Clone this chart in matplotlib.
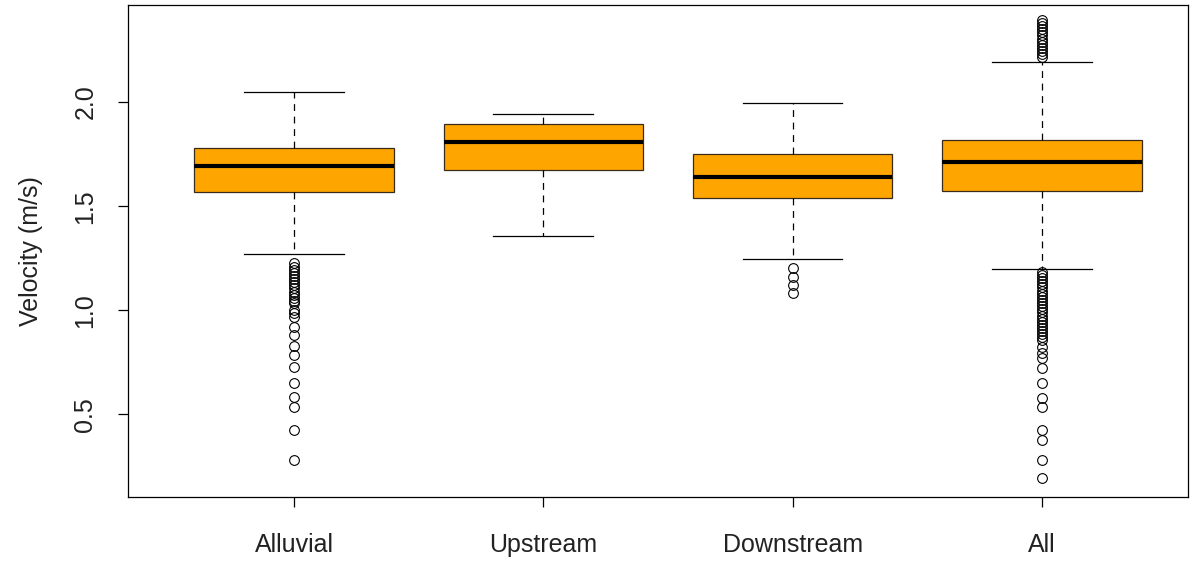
import matplotlib.pyplot as plt

plt.rcParams['font.family'] = ['Liberation Sans', 'DejaVu Sans']

# Groups and their five-number summaries (velocity in m/s)
groups = ["Alluvial", "Upstream", "Downstream", "All"]
whisker_low = [1.270, 1.357, 1.246, 1.200]
q1 = [1.570, 1.672, 1.539, 1.573]
median = [1.694, 1.809, 1.641, 1.710]
q3 = [1.778, 1.894, 1.752, 1.818]
whisker_high = [2.049, 1.942, 1.997, 2.192]

# Points beyond the whiskers
alluvial_out = [1.225, 1.21, 1.195, 1.18, 1.165, 1.15, 1.135, 1.12, 1.105,
                1.09, 1.075, 1.06, 1.045, 1.035, 1.0, 0.985, 0.97, 0.92,
                0.88, 0.83, 0.785, 0.728, 0.651, 0.584, 0.536, 0.425, 0.281]
upstream_out = []
downstream_out = [1.202, 1.161, 1.121, 1.081]
all_out = [2.394, 2.38, 2.365, 2.35, 2.335, 2.32, 2.305, 2.29, 2.275, 2.26,
           2.245, 2.23, 2.215,
           1.185, 1.17, 1.155, 1.14, 1.125, 1.11, 1.095, 1.08, 1.065, 1.05,
           1.035, 1.02, 1.005, 0.99, 0.975, 0.96, 0.945, 0.93, 0.915, 0.9,
           0.885, 0.87, 0.857, 0.825, 0.795, 0.771, 0.723, 0.651, 0.579,
           0.536, 0.425, 0.377, 0.281, 0.195]
outliers = [alluvial_out, upstream_out, downstream_out, all_out]

stats = []
for i in range(len(groups)):
    stats.append({
        "label": groups[i],
        "whislo": whisker_low[i],
        "q1": q1[i],
        "med": median[i],
        "q3": q3[i],
        "whishi": whisker_high[i],
        "fliers": outliers[i],
    })

fig = plt.figure(figsize=(12.01, 5.62), dpi=100)
ax = fig.add_axes([0.1066, 0.1157, 0.8825, 0.8754])

ax.bxp(stats, widths=0.8, capwidths=0.4, patch_artist=True,
       boxprops=dict(facecolor="#FFA500", edgecolor="#3a2a1a", linewidth=0.9),
       medianprops=dict(color="black", linewidth=3.0, solid_capstyle="butt"),
       whiskerprops=dict(color="black", linewidth=0.9, linestyle=(0, (5.5, 4.5))),
       capprops=dict(color="black", linewidth=0.9),
       flierprops=dict(marker="o", markerfacecolor="none",
                       markeredgecolor="black", markersize=7,
                       markeredgewidth=0.8))

ax.set_xlim(0.334, 4.586)
ax.set_ylim(0.104, 2.466)
ax.set_yticks([0.5, 1.0, 1.5, 2.0])
ax.set_yticklabels(["0.5", "1.0", "1.5", "2.0"], rotation=90, va="center")
ax.set_ylabel("Velocity (m/s)", fontsize=18, color="#222222", labelpad=22)
ax.tick_params(axis="both", labelsize=18, length=7, width=0.9,
               labelcolor="#222222")
ax.tick_params(axis="x", pad=19)
ax.tick_params(axis="y", pad=15)
for s in ax.spines.values():
    s.set_linewidth(0.9)

fig.savefig("out.png", dpi=100)
